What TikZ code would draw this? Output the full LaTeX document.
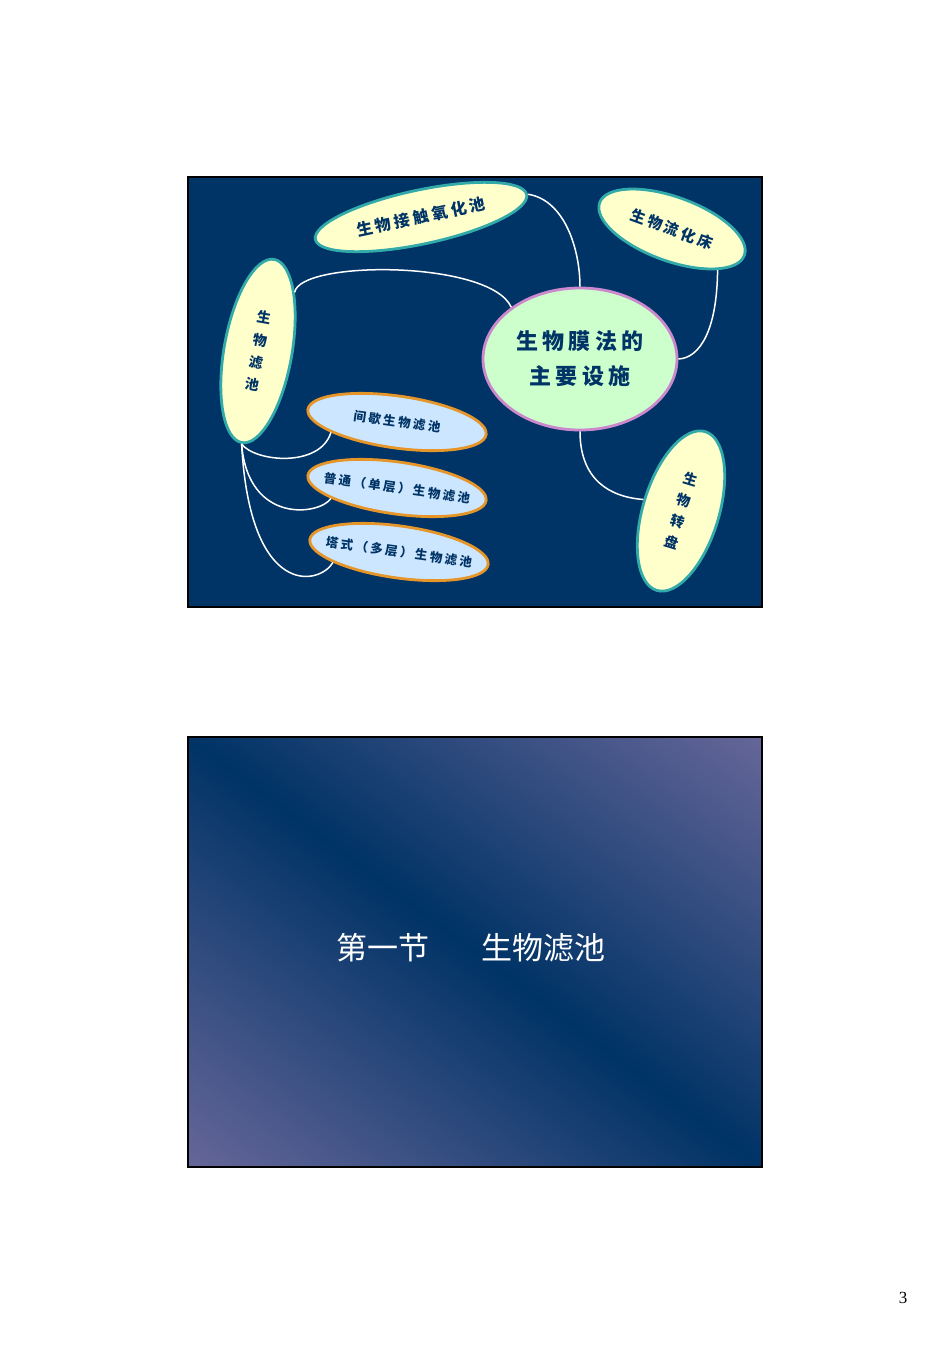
\documentclass[tikz,border=0pt]{standalone}
\usepackage{fontspec}
\setmainfont{Liberation Serif}
\newfontfamily\cjk[LetterSpace=20]{Noto Sans CJK SC}
\newfontfamily\cjktitle{Noto Sans CJK SC}
\usepackage{xcolor}
\usetikzlibrary{shapes.geometric}
\definecolor{slidenavy}{RGB}{0, 51, 102}
\definecolor{slidelilac}{RGB}{102, 102, 153}
\definecolor{slidecream}{RGB}{255, 255, 204}
\definecolor{slideteal}{RGB}{51, 170, 170}
\definecolor{slidesky}{RGB}{204, 230, 255}
\definecolor{slideorange}{RGB}{230, 150, 40}
\definecolor{slidemint}{RGB}{204, 255, 204}
\definecolor{slideorchid}{RGB}{204, 136, 204}

\begin{document}
\begin{tikzpicture}[x=1pt, y=-1pt,
    creampool/.style={ellipse, draw=slideteal, line width=2.8pt, fill=slidecream, inner sep=0pt, text=slidenavy},
    skypool/.style={ellipse, draw=slideorange, line width=2.8pt, fill=slidesky, inner sep=0pt, inner xsep=-16pt, minimum width=180pt, minimum height=52pt, text=slidenavy, font=\cjk\bfseries\fontsize{12.5}{15}\selectfont},
    branch/.style={white, line width=1.5pt}]
                \useasboundingbox (0,0) rectangle (950,1345);
                \fill[white] (0,0) rectangle (950,1345);

                % Overview slide
                \draw[black, line width=1.5pt, fill=slidenavy] (188,177) rectangle (762,607);
                \node[ellipse, draw=slideorchid, line width=2.8pt, fill=slidemint, minimum width=194pt, minimum height=142pt, inner sep=0pt, align=center, text=slidenavy, font=\cjk\bfseries\fontsize{22}{35}\selectfont] (facilities) at (580,359) {生物膜法的\\主要设施};
                \node[creampool, rotate=12, minimum width=216pt, minimum height=54pt, font=\cjk\bfseries\fontsize{16}{16}\selectfont] (contact) at (421,217) {生物接触氧化池};
                \node[creampool, rotate=-20, minimum width=154pt, minimum height=64pt, font=\cjk\bfseries\fontsize{15}{15}\selectfont] (fluidized) at (672,229) {生物流化床};
                \node[creampool, rotate=-10, minimum width=68pt, minimum height=186pt, align=center, font=\cjk\bfseries\fontsize{14}{22.5}\selectfont] (trickling) at (258,351) {生\\物\\滤\\池};
                \node[creampool, rotate=-17, minimum width=76pt, minimum height=166pt, align=center, font=\cjk\bfseries\fontsize{14}{22}\selectfont] (disc) at (681,511) {生\\物\\转\\盘};

                % Kinds of trickling filter
                \node[skypool, rotate=-8] (intermittent) at (397,422) {间歇生物滤池};
                \node[skypool, rotate=-8] (singlestage) at (397,488) {普通（单层）生物滤池};
                \node[skypool, rotate=-8] (tower) at (399,552) {塔式（多层）生物滤池};

                % Branches
                \draw[branch] (contact.east) .. controls (565,200) and (580,250) .. (facilities.north);
                \draw[branch] (fluidized.-22) .. controls (717,330) and (700,358) .. (facilities.east);
                \draw[branch] (trickling.68) .. controls (300,260) and (490,260) .. (facilities.143);
                \draw[branch] (facilities.south) .. controls (580,480) and (610,497) .. (disc.west);
                \draw[branch] (trickling.south) .. controls (255,462) and (320,468) .. (intermittent.197);
                \draw[branch] (trickling.south) .. controls (248,525) and (320,515) .. (singlestage.197);
                \draw[branch] (trickling.south) .. controls (250,600) and (320,585) .. (tower.197);

                % Section title slide
                \begin{scope}
                    \clip (188,737) rectangle (762,1167);
                    \shade[transform canvas={rotate around={-36.8:(475,952)}}, top color=slidelilac, bottom color=slidelilac, middle color=slidenavy] (75,608) rectangle (875,1296);
                \end{scope}
                \draw[black, line width=1.5pt] (188,737) rectangle (762,1167);
                \node[white, font=\cjktitle\fontsize{31}{31}\selectfont] (title) at (471,948) {第一节\hspace{52pt}生物滤池};

                \node[font=\fontsize{17}{17}\selectfont] (pagenum) at (903,1298) {3};
            \end{tikzpicture}
\end{document}
